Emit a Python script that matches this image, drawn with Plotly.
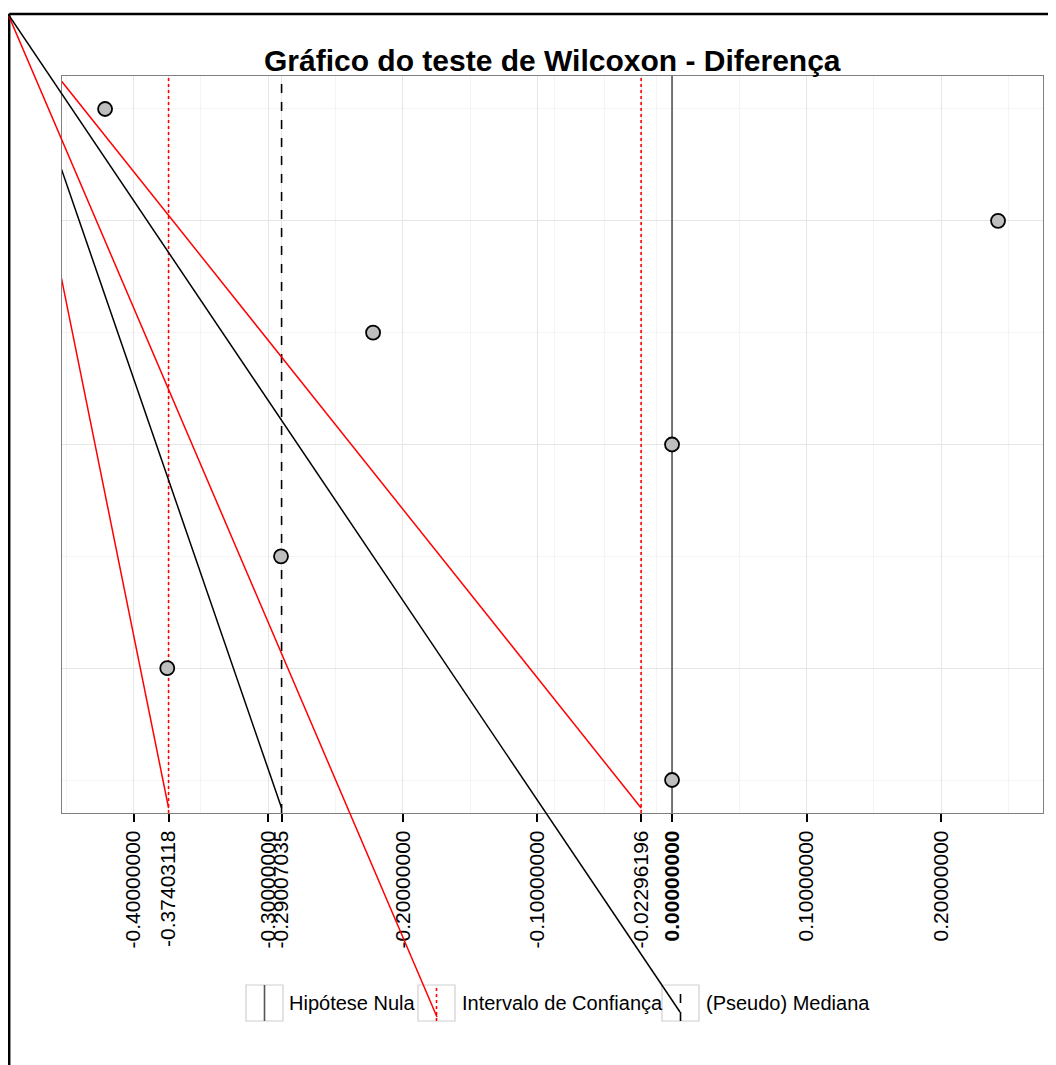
import plotly.graph_objects as go

# ---------------- data ----------------
obs_index = [1, 2, 3, 4, 5, 6, 7]
differences = [0.0, -0.375, -0.2905, 0.0, -0.2221, 0.2422, -0.4212]

null_hypothesis = 0.0
ci_bounds = [-0.37403118, -0.02296196]
pseudo_median = -0.29007035

tick_values = [-0.4, -0.37403118, -0.3, -0.29007035, -0.2, -0.1, -0.02296196, 0.0, 0.1, 0.2]
tick_labels = ["-0.40000000", "-0.37403118", "-0.30000000", "-0.29007035", "-0.20000000",
               "-0.10000000", "-0.02296196", "<b>0.00000000</b>", "0.10000000", "0.20000000"]
minor_x = [-0.45, -0.35, -0.25, -0.15, -0.0874, -0.05, -0.0115, 0.05, 0.15, 0.25]
major_y = [2, 4, 6]
minor_y = [1, 3, 5, 7]

legend_labels = ["Hipótese Nula", "Intervalo de Confiança", "(Pseudo) Mediana"]
title_text = "Gráfico do teste de Wilcoxon - Diferença"

# ---------------- layout geometry ----------------
OFF = 8  # page body margin
W, H = 1056 - OFF, 1065 - OFF
L, R, T, B = 62 - OFF, 1043 - OFF, 76 - OFF, 813 - OFF
x_range = [-0.4532, 0.2756]
y_range = [0.705, 7.295]
FONT = "Arial, Liberation Sans, sans-serif"


def px_to_paper(px, py):
    px -= OFF
    py -= OFF
    return (px - L) / (R - L), (B - py) / (B - T)


def px_to_data(px, py):
    fx, fy = px_to_paper(px, py)
    return (x_range[0] + fx * (x_range[1] - x_range[0]),
            y_range[0] + fy * (y_range[1] - y_range[0]))


corner_px = (8, 14)
cx, cy = px_to_data(*corner_px)
_, end_y = px_to_data(0, 808)

fig = go.Figure()

# vertical reference lines
fig.add_trace(go.Scatter(x=[null_hypothesis, null_hypothesis], y=y_range, mode="lines",
                         line=dict(color="#555555", width=1.6), hoverinfo="skip", showlegend=False))
for v in ci_bounds:
    fig.add_trace(go.Scatter(x=[v, v], y=y_range, mode="lines",
                             line=dict(color="red", width=1.6, dash="dot"), hoverinfo="skip", showlegend=False))
fig.add_trace(go.Scatter(x=[pseudo_median, pseudo_median], y=y_range, mode="lines",
                         line=dict(color="black", width=1.6, dash="dash"), hoverinfo="skip", showlegend=False))

# stray diagonal lines (clipped to panel) from the viewport corner to the bottom of the vlines
for xv, col in [(ci_bounds[0], "red"), (pseudo_median, "black"), (ci_bounds[1], "red")]:
    fig.add_trace(go.Scatter(x=[cx, xv], y=[cy, end_y], mode="lines",
                             line=dict(color=col, width=1.5), hoverinfo="skip", showlegend=False))

# points
fig.add_trace(go.Scatter(x=differences, y=obs_index, mode="markers",
                         marker=dict(size=14, color="#BEBEBE", line=dict(color="black", width=1.8)),
                         showlegend=False))

shapes = []
# viewport frame (top and left)
f0 = px_to_paper(9.2, 14)
f1 = px_to_paper(1060, 14)
f2 = px_to_paper(9.2, 1070)
shapes.append(dict(type="line", xref="paper", yref="paper", x0=f0[0], y0=f0[1], x1=f1[0], y1=f1[1],
                   line=dict(color="black", width=2.5)))
shapes.append(dict(type="line", xref="paper", yref="paper", x0=f0[0], y0=f0[1], x1=f2[0], y1=f2[1],
                   line=dict(color="black", width=2.5)))
p0 = px_to_paper(*corner_px)

# legend keys
key_boxes = [(246, 283), (418, 455), (662, 699)]
key_styles = [("#555555", "solid"), ("red", "dot"), ("black", "dash")]
text_left = [287, 460, 704]
ky0, ky1, kmid = 985, 1021, 1003
annotations = []
for (bx0, bx1), (col, dash), tx, lab in zip(key_boxes, key_styles, text_left, legend_labels):
    a = px_to_paper(bx0, ky1)
    b = px_to_paper(bx1, ky0)
    shapes.append(dict(type="rect", xref="paper", yref="paper", x0=a[0], y0=a[1], x1=b[0], y1=b[1],
                       line=dict(color="#D0D0D0", width=1.2), fillcolor="white"))
    xm = (bx0 + bx1) / 2
    c = px_to_paper(xm, ky1)
    d = px_to_paper(xm, ky0)
    shapes.append(dict(type="line", xref="paper", yref="paper", x0=c[0], y0=c[1], x1=d[0], y1=d[1],
                       line=dict(color=col, width=1.6, dash=dash)))
    t = px_to_paper(tx, kmid)
    annotations.append(dict(xref="paper", yref="paper", x=t[0], y=t[1], text=lab, showarrow=False,
                            xanchor="left", yanchor="middle", font=dict(family=FONT, size=20, color="black")))

# stray diagonal lines (unclipped) to the legend keys
for (ex, ey), col in [((437, 1017), "red"), ((680, 1012), "black")]:
    e = px_to_paper(ex, ey)
    shapes.append(dict(type="line", xref="paper", yref="paper", x0=p0[0], y0=p0[1], x1=e[0], y1=e[1],
                       line=dict(color=col, width=1.5)))

tp = px_to_paper(552, 60)
annotations.append(dict(xref="paper", yref="paper", x=0.5, y=tp[1], text="<b>" + title_text + "</b>",
                        showarrow=False, xanchor="center", yanchor="middle",
                        font=dict(family=FONT, size=30, color="black")))

fig.update_layout(
    width=W, height=H,
    margin=dict(l=L, r=W - R, t=T, b=H - B, pad=0),
    paper_bgcolor="white", plot_bgcolor="white",
    showlegend=False,
    shapes=shapes, annotations=annotations,
    xaxis=dict(range=x_range, tickmode="array", tickvals=tick_values, ticktext=tick_labels,
               tickangle=-90, ticks="outside", ticklen=8, tickwidth=1.6, tickcolor="black",
               tickfont=dict(family=FONT, size=21, color="black"),
               showgrid=True, gridcolor="#E6E6E6", gridwidth=1.2,
               minor=dict(tickmode="array", tickvals=minor_x, showgrid=True, gridcolor="#F4F4F4", gridwidth=1),
               showline=True, linecolor="#7F7F7F", linewidth=1.2, mirror=True, zeroline=False),
    yaxis=dict(range=y_range, tickmode="array", tickvals=major_y, showticklabels=False, ticks="",
               showgrid=True, gridcolor="#E6E6E6", gridwidth=1.2,
               minor=dict(tickmode="array", tickvals=minor_y, showgrid=True, gridcolor="#F4F4F4", gridwidth=1),
               showline=True, linecolor="#7F7F7F", linewidth=1.2, mirror=True, zeroline=False),
)

fig.write_html("out.html")
